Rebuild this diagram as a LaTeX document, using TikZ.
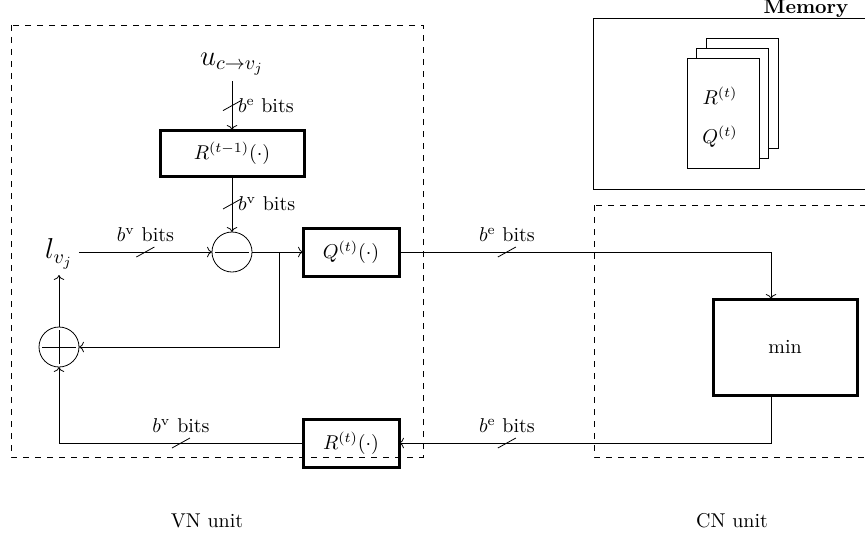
\documentclass[tikz,border=0pt]{standalone}
\usetikzlibrary{arrows.meta}
\begin{document}
\begin{tikzpicture}[x=0.5pt,y=-0.5pt,
  every node/.style={inner sep=0pt, outer sep=0pt},
  thickbox/.style={draw, line width=1.5pt, align=center},
  sumnode/.style={draw, circle, minimum size=20pt},
  unitbox/.style={draw, dashed},
  page/.style={draw, fill=white},
  conn/.style={->},
  slash/.pic={\draw[-] (-4.5pt,-2.5pt) -- (4.5pt,2.5pt);},
  bitsup/.style={above=5pt},
  bitsright/.style={right=3pt}
]
\useasboundingbox (0,0) rectangle (865,540);
\clip (0,0) rectangle (865,540);

% unit boxes
\draw[unitbox] (11,25) rectangle (423,457);
\draw[unitbox] (594,205) rectangle (880,457);
\node (vnlabel) at (207,521) {VN unit};
\node (cnlabel) at (732,521) {CN unit};

% memory
\draw (593,18) rectangle (880,189);
\node[font=\bfseries] (memlabel) at (806,9) {Memory};
\draw[page] (706,38) rectangle (778,148);
\draw[page] (696,48) rectangle (768,158);
\draw[page] (687,58) rectangle (759,168);
\node (rt) at (720,96) {$R^{(t)}$};
\node (qt) at (720,137) {$Q^{(t)}$};

% VN unit
\node[font=\Large] (u) at (232,64) {$u_{c\to v_j}$};
\node[thickbox, minimum width=72pt, minimum height=23pt] (R1) at (232,153) {$R^{(t-1)}(\cdot)$};
\node[sumnode] (mi) at (232,252) {};
\draw (mi.center) ++(-8.5pt,0) -- ++(17pt,0);
\node[sumnode] (pl) at (59,347) {};
\draw (pl.center) ++(-8.5pt,0) -- ++(17pt,0);
\draw (pl.center) ++(0,-8.5pt) -- ++(0,17pt);
\node[font=\Large, inner sep=3pt] (l) at (59,254) {$l_{v_j}$};
\node[thickbox, minimum width=48pt, minimum height=24pt] (Q) at (351,252) {$Q^{(t)}(\cdot)$};
\node[thickbox, minimum width=48pt, minimum height=24pt] (R) at (351,443) {$R^{(t)}(\cdot)$};

% CN unit
\node[thickbox, minimum width=72pt, minimum height=48pt] (min) at (785,347) {min};

% coordinates
\coordinate (br) at (279,252);
\coordinate (qc) at (771,252);
\coordinate (rc) at (771,443);
\coordinate (lc) at (59,443);

% connectors
\draw[conn] ([yshift=-3pt]u.south) -- pic[pos=0.5]{slash} node[pos=0.5, bitsright] {$b^{\mathrm{e}}$ bits} (R1.north);
\draw[conn] (R1.south) -- pic[pos=0.5]{slash} node[pos=0.5, bitsright] {$b^{\mathrm{v}}$ bits} (mi.north);
\draw[conn] (l.east |- mi.west) -- pic[pos=0.5]{slash} node[pos=0.5, bitsup] {$b^{\mathrm{v}}$ bits} (mi.west);
\draw[conn] (mi.east) -- (Q.west);
\draw[conn] (br) |- (pl.east);
\draw[conn] (Q.east) -- pic[pos=0.29]{slash} node[pos=0.29, bitsup] {$b^{\mathrm{e}}$ bits} (qc) -- (qc |- min.north);
\draw[conn] (rc |- min.south) -- (rc) -- pic[pos=0.71]{slash} node[pos=0.71, bitsup] {$b^{\mathrm{e}}$ bits} (R.east);
\draw[conn] (R.west) -- pic[pos=0.5]{slash} node[pos=0.5, bitsup] {$b^{\mathrm{v}}$ bits} (lc) -- (pl.south);
\draw[conn] (pl.north) -- (l.south);
\end{tikzpicture}
\end{document}
